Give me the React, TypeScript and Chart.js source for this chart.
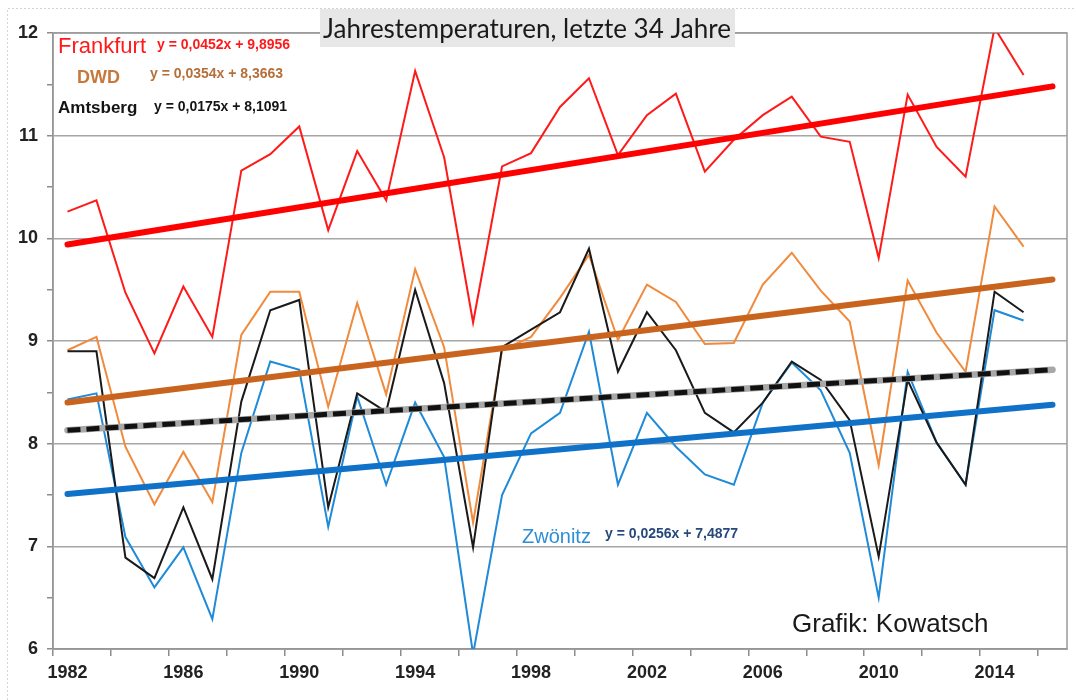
import React, { useEffect, useRef } from "react";
import { Chart, registerables } from "chart.js";

Chart.register(...registerables);

// ---- data ----
const YEARS = [
  "1982", "1983", "1984", "1985", "1986", "1987", "1988", "1989", "1990", "1991",
  "1992", "1993", "1994", "1995", "1996", "1997", "1998", "1999", "2000", "2001",
  "2002", "2003", "2004", "2005", "2006", "2007", "2008", "2009", "2010", "2011",
  "2012", "2013", "2014", "2015", "2016",
];

const FRANKFURT = [
  10.26, 10.37, 9.47, 8.88, 9.53, 9.04, 10.66, 10.82, 11.09, 10.08,
  10.85, 10.37, 11.63, 10.79, 9.18, 10.7, 10.83, 11.28, 11.56, 10.81,
  11.2, 11.41, 10.65, 10.96, 11.2, 11.38, 10.99, 10.94, 9.81, 11.4,
  10.89, 10.6, 12.05, 11.59,
];
const DWD = [
  8.91, 9.04, 7.97, 7.41, 7.92, 7.43, 9.06, 9.48, 9.48, 8.36,
  9.37, 8.48, 9.7, 8.94, 7.23, 8.91, 9.04, 9.42, 9.84, 9.01,
  9.55, 9.38, 8.97, 8.98, 9.55, 9.86, 9.49, 9.19, 7.79, 9.59,
  9.08, 8.7, 10.31, 9.92,
];
const AMTSBERG = [
  8.9, 8.9, 6.89, 6.69, 7.38, 6.68, 8.41, 9.3, 9.4, 7.38,
  8.49, 8.31, 9.5, 8.59, 6.99, 8.94, 9.11, 9.28, 9.9, 8.7,
  9.28, 8.91, 8.3, 8.11, 8.4, 8.8, 8.62, 8.23, 6.9, 8.62,
  8.01, 7.6, 9.48, 9.28,
];
const ZWOENITZ = [
  8.43, 8.49, 7.09, 6.6, 6.99, 6.29, 7.91, 8.8, 8.72, 7.19,
  8.46, 7.6, 8.4, 7.87, 5.95, 7.5, 8.1, 8.3, 9.09, 7.6,
  8.3, 7.97, 7.7, 7.6, 8.4, 8.79, 8.52, 7.91, 6.5, 8.7,
  8.01, 7.6, 9.3, 9.2,
];

// trend line end points (first year, last year incl. one forecast year)
const FRANKFURT_TREND = [9.94, 11.48];
const DWD_TREND = [8.4, 9.6];
const AMTSBERG_TREND = [8.13, 8.72];
const ZWOENITZ_TREND = [7.51, 8.38];

const Y_TICKS = [6, 7, 8, 9, 10, 11, 12];

const TITLE = "Jahrestemperaturen, letzte 34 Jahre";
const LABEL_FRANKFURT = "Frankfurt";
const EQ_FRANKFURT = "y = 0,0452x + 9,8956";
const LABEL_DWD = "DWD";
const EQ_DWD = "y = 0,0354x + 8,3663";
const LABEL_AMTSBERG = "Amtsberg";
const EQ_AMTSBERG = "y = 0,0175x + 8,1091";
const LABEL_ZWOENITZ = "Zwönitz";
const EQ_ZWOENITZ = "y = 0,0256x + 7,4877";
const CREDIT = "Grafik: Kowatsch";

const padSeries = (arr: number[]) => [...arr, ...Array(YEARS.length - arr.length).fill(null)];
const trendSeries = (ends: number[]) => {
  const out: (number | null)[] = Array(YEARS.length).fill(null);
  out[0] = ends[0];
  out[YEARS.length - 1] = ends[1];
  return out;
};

const SANS = "'Liberation Sans', Arial, sans-serif";

const framePlugin = {
  id: "frame",
  beforeDatasetsDraw(chart: any) {
    const { ctx, chartArea } = chart;
    ctx.save();
    ctx.strokeStyle = "#9a9a9a";
    ctx.lineWidth = 1.5;
    ctx.strokeRect(chartArea.left, chartArea.top, chartArea.right - chartArea.left, chartArea.bottom - chartArea.top);
    ctx.restore();
  },
};

const annotationPlugin = {
  id: "annotations",
  beforeDraw(chart: any) {
    const { ctx } = chart;
    ctx.save();
    ctx.fillStyle = "#ffffff";
    ctx.fillRect(0, 0, chart.width, chart.height);
    ctx.strokeStyle = "#d4d4d4";
    ctx.lineWidth = 1;
    ctx.setLineDash([2, 2]);
    ctx.beginPath();
    ctx.moveTo(7.5, chart.height);
    ctx.lineTo(7.5, 8.5);
    ctx.lineTo(chart.width, 8.5);
    ctx.stroke();
    ctx.restore();
  },
  afterDraw(chart: any) {
    const { ctx } = chart;
    ctx.save();
    // title box
    ctx.fillStyle = "#e7e7e7";
    ctx.fillRect(320, 9, 415, 38);
    ctx.fillStyle = "#1a1a1a";
    ctx.font = "26px Lato, 'Open Sans', sans-serif";
    ctx.textAlign = "center";
    ctx.textBaseline = "alphabetic";
    ctx.fillText(TITLE, 527, 38);

    ctx.textAlign = "left";
    // Frankfurt
    ctx.fillStyle = "#ff1a1a";
    ctx.font = `22px ${SANS}`;
    ctx.fillText(LABEL_FRANKFURT, 58, 53);
    ctx.font = `bold 14px ${SANS}`;
    ctx.textBaseline = "middle";
    ctx.fillText(EQ_FRANKFURT, 157, 45);

    // DWD
    ctx.textBaseline = "alphabetic";
    ctx.fillStyle = "#c8783a";
    ctx.font = `bold 18px ${SANS}`;
    ctx.fillText(LABEL_DWD, 77, 83);
    ctx.fillStyle = "#b5703a";
    ctx.font = `bold 14px ${SANS}`;
    ctx.textBaseline = "middle";
    ctx.fillText(EQ_DWD, 150, 74);

    // Amtsberg
    ctx.textBaseline = "alphabetic";
    ctx.fillStyle = "#141414";
    ctx.font = `bold 17px ${SANS}`;
    ctx.fillText(LABEL_AMTSBERG, 58, 113);
    ctx.font = `bold 14px ${SANS}`;
    ctx.textBaseline = "middle";
    ctx.fillText(EQ_AMTSBERG, 154, 107);

    // Zwönitz
    ctx.textBaseline = "alphabetic";
    ctx.fillStyle = "#2e8ed6";
    ctx.font = `20px ${SANS}`;
    ctx.fillText(LABEL_ZWOENITZ, 522, 543);
    ctx.fillStyle = "#26497c";
    ctx.font = `bold 14px ${SANS}`;
    ctx.textBaseline = "middle";
    ctx.fillText(EQ_ZWOENITZ, 605, 534);

    // credit
    ctx.textBaseline = "alphabetic";
    ctx.fillStyle = "#1a1a1a";
    ctx.font = `26px ${SANS}`;
    ctx.fillText(CREDIT, 792, 632);
    ctx.restore();
  },
};

export default function App() {
  const ref = useRef<HTMLCanvasElement | null>(null);

  useEffect(() => {
    if (!ref.current) return;
    const line = (data: any[], color: string, width: number, order: number, extra: any = {}) => ({
      data,
      borderColor: color,
      backgroundColor: color,
      borderWidth: width,
      pointRadius: 0,
      tension: 0,
      fill: false,
      spanGaps: true,
      order,
      ...extra,
    });

    const chart = new Chart(ref.current, {
      type: "line",
      data: {
        labels: YEARS,
        datasets: [
          line(trendSeries(FRANKFURT_TREND), "#ff0000", 6, 0, { borderCapStyle: "round" }),
          line(trendSeries(AMTSBERG_TREND), "#111111", 5, 1, { borderDash: [13, 6] }),
          line(trendSeries(AMTSBERG_TREND), "#a8a8a8", 6.5, 2, { borderCapStyle: "round" }),
          line(trendSeries(ZWOENITZ_TREND), "#0f72c8", 6, 3, { borderCapStyle: "round" }),
          line(trendSeries(DWD_TREND), "#c8641e", 6, 4, { borderCapStyle: "round" }),
          line(padSeries(FRANKFURT), "#ff1a1a", 2, 5),
          line(padSeries(AMTSBERG), "#1a1a1a", 2, 6),
          line(padSeries(ZWOENITZ), "#1f8ad8", 2, 7),
          line(padSeries(DWD), "#f08a3c", 2, 8),
        ],
      },
      options: {
        animation: false,
        responsive: false,
        maintainAspectRatio: false,
        layout: { padding: { top: 33, right: 9, left: 0, bottom: 0 } },
        plugins: {
          legend: { display: false },
          tooltip: { enabled: false },
          title: { display: false },
        },
        scales: {
          x: {
            type: "category",
            offset: true,
            grid: {
              offset: true,
              drawOnChartArea: false,
              drawTicks: true,
              tickLength: 7,
              lineWidth: 1.5,
              color: (c: any) => (c.index % 2 === 0 ? "#8c8c8c" : "rgba(0,0,0,0)"),
            },
            border: { display: true, color: "#8c8c8c", width: 1.5 },
            ticks: {
              autoSkip: false,
              maxRotation: 0,
              minRotation: 0,
              padding: 6,
              color: "#222222",
              font: { family: SANS, size: 18, weight: "bold" },
              callback: (_v: any, i: number) => (i % 4 === 0 && i < YEARS.length - 1 ? YEARS[i] : ""),
            },
            afterFit: (s: any) => {
              s.height = 51;
            },
          },
          y: {
            min: Y_TICKS[0],
            max: Y_TICKS[Y_TICKS.length - 1],
            ticks: {
              stepSize: 0.5,
              padding: 9,
              color: "#222222",
              font: { family: SANS, size: 18, weight: "bold" },
              callback: (v: any) => (Y_TICKS.includes(Number(v)) ? String(v) : ""),
            },
            grid: {
              lineWidth: 1.5,
              tickLength: 6,
              color: (c: any) => (c.tick && Y_TICKS.includes(c.tick.value) ? "#a6a6a6" : "rgba(0,0,0,0)"),
              tickColor: "#8c8c8c",
            },
            border: { display: true, color: "#8c8c8c", width: 1.5 },
            afterFit: (s: any) => {
              s.width = 53;
            },
          },
        },
      } as any,
      plugins: [framePlugin, annotationPlugin],
    });
    return () => chart.destroy();
  }, []);

  return (
    <div style={{ position: "fixed", left: 0, top: 0, width: 1076, height: 700, background: "#fff" }}>
      <canvas ref={ref} width={1076} height={700} style={{ width: 1076, height: 700, display: "block" }} />
    </div>
  );
}
